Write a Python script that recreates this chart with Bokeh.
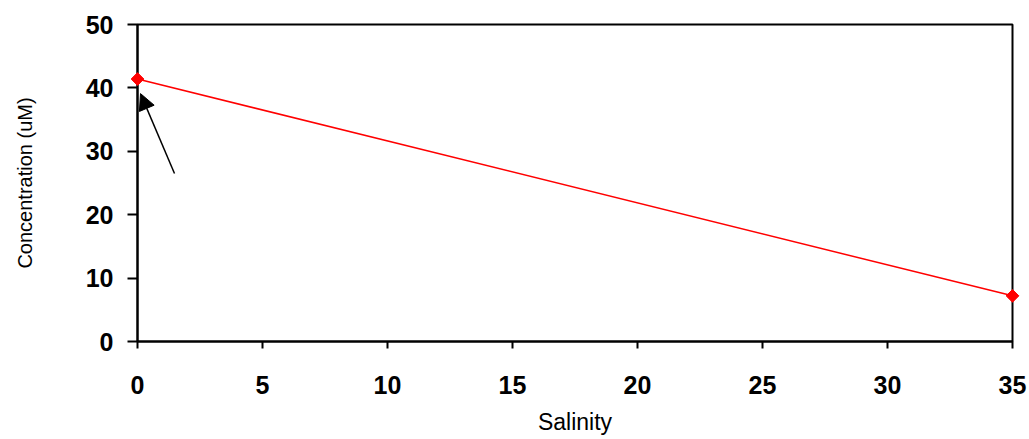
import math
from bokeh.plotting import figure
from bokeh.models import Range1d, FixedTicker, Arrow, NormalHead
from bokeh.embed import file_html
from bokeh.resources import INLINE

salinity = [0, 35]
concentration = [41.4, 7.2]
x_ticks = [0, 5, 10, 15, 20, 25, 30, 35]
y_ticks = [0, 10, 20, 30, 40, 50]
arrow_start = (1.48, 26.5)
arrow_end = (0.12, 39.1)

p = figure(width=1029, height=439, output_backend="svg", toolbar_location=None,
           x_range=Range1d(0, 35), y_range=Range1d(0, 50),
           min_border_left=137, min_border_top=24, min_border_right=17, min_border_bottom=98)
p.grid.visible = False
p.outline_line_color = "black"
p.outline_line_width = 2
p.background_fill_color = "white"
p.border_fill_color = "white"

for ax in (p.xaxis[0], p.yaxis[0]):
    ax.axis_line_width = 2
    ax.axis_line_color = "black"
    ax.major_tick_line_width = 2
    ax.major_tick_line_color = "black"
    ax.minor_tick_line_color = None
    ax.major_tick_in = 0
    ax.major_label_text_font = "Liberation Sans"
    ax.major_label_text_font_style = "bold"
    ax.major_label_text_font_size = "25px"
    ax.major_label_text_color = "black"
    ax.axis_label_text_font = "Liberation Sans"
    ax.axis_label_text_font_style = "normal"
    ax.axis_label_text_color = "black"

p.xaxis.axis_label_text_font_size = "23px"
p.yaxis.axis_label_text_font_size = "20px"
p.xaxis.ticker = FixedTicker(ticks=x_ticks)
p.yaxis.ticker = FixedTicker(ticks=y_ticks)
p.xaxis.major_tick_out = 7
p.yaxis.major_tick_out = 10
p.xaxis.major_label_standoff = 27
p.yaxis.major_label_standoff = 14
p.xaxis.axis_label = "Salinity"
p.yaxis.axis_label = "Concentration (uM)"
p.xaxis.axis_label_standoff = 12
p.yaxis.axis_label_standoff = 47

p.line(salinity, concentration, line_color="red", line_width=1.5)
p.scatter(salinity, concentration, marker="square", size=9, angle=math.pi / 4,
          fill_color="red", line_color="red", level="overlay")

p.add_layout(Arrow(x_start=arrow_start[0], y_start=arrow_start[1],
                   x_end=arrow_end[0], y_end=arrow_end[1],
                   line_color="black", line_width=1.5,
                   end=NormalHead(size=16, fill_color="black", line_color="black")))

open("out.html", "w").write(file_html(p, INLINE))
